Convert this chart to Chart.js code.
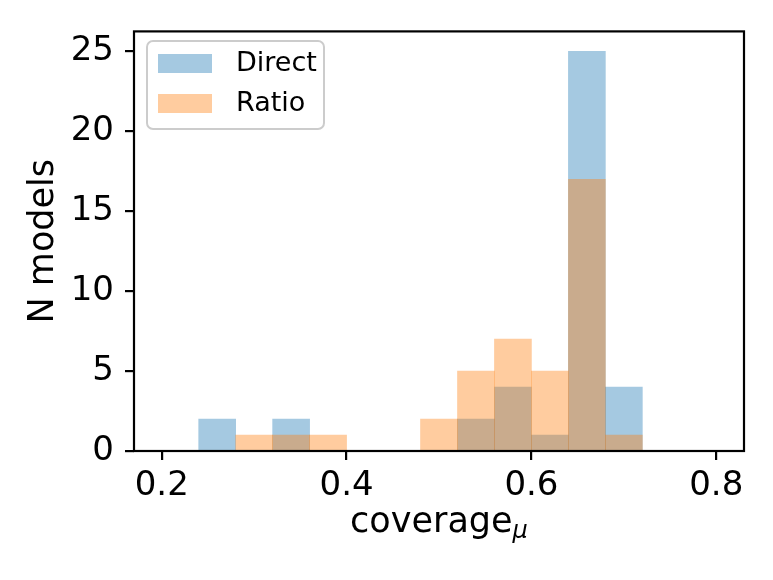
<!DOCTYPE html>
<html>
<head>
<meta charset="utf-8">
<script src="https://cdn.jsdelivr.net/npm/chart.js@4.4.1/dist/chart.umd.min.js"></script>
<style>
html, body { margin: 0; padding: 0; background: #fff; }
#wrap { width: 773px; height: 580px; }
</style>
</head>
<body>
<div id="wrap"><canvas id="histChart"></canvas></div>
<script>
// bins are 0.04 wide, from 0.20 to 0.80
const binCenters = [0.22, 0.26, 0.30, 0.34, 0.38, 0.42, 0.46, 0.50, 0.54, 0.58, 0.62, 0.66, 0.70, 0.74, 0.78];
const directCounts = [0, 2, 0, 2, 0, 0, 0, 0, 2, 4, 1, 25, 4, 0, 0];
const ratioCounts = [0, 0, 1, 1, 1, 0, 0, 2, 5, 7, 5, 17, 1, 0, 0];
const xTicks = [0.2, 0.4, 0.6, 0.8];
const yTicks = [0, 5, 10, 15, 20, 25];
const seriesNames = ['Direct', 'Ratio'];

const FONT = "'DejaVu Sans', sans-serif";
const blue = 'rgba(31, 119, 180, 0.4)';
const orange = 'rgba(255, 127, 14, 0.4)';

function toPoints(counts) {
    return binCenters.map((c, i) => ({ x: c, y: counts[i] }));
}

// frame, axis titles and the legend box, drawn like matplotlib does
const mplDecor = {
    id: 'mplDecor',
    afterDatasetsDraw(chart) {
        const { ctx, chartArea: a } = chart;
        ctx.save();
        ctx.strokeStyle = '#000';
        ctx.lineWidth = 2.2;
        ctx.strokeRect(a.left, a.top, a.right - a.left, a.bottom - a.top);
        ctx.restore();
    },
    afterDraw(chart) {
        const { ctx, chartArea: a } = chart;
        ctx.save();
        ctx.fillStyle = '#000';

        // x title with subscript mu
        ctx.font = '35px ' + FONT;
        const main = 'coverage';
        const wMain = ctx.measureText(main).width;
        ctx.font = 'italic 24px ' + FONT;
        const wSub = ctx.measureText('μ').width;
        const cx = (a.left + a.right) / 2;
        const x0 = cx - (wMain + wSub) / 2;
        ctx.textBaseline = 'alphabetic';
        ctx.textAlign = 'left';
        ctx.font = '35px ' + FONT;
        ctx.fillText(main, x0, 532);
        ctx.font = 'italic 24px ' + FONT;
        ctx.fillText('μ', x0 + wMain, 538);

        // y title
        ctx.save();
        ctx.translate(44, (a.top + a.bottom) / 2);
        ctx.rotate(-Math.PI / 2);
        ctx.font = '35px ' + FONT;
        ctx.textAlign = 'center';
        ctx.textBaseline = 'middle';
        ctx.fillText('N models', 0, 0);
        ctx.restore();

        // legend
        const bx = 147, by = 41, bw = 177, bh = 88;
        ctx.beginPath();
        ctx.roundRect(bx, by, bw, bh, 6);
        ctx.fillStyle = 'rgba(255,255,255,0.8)';
        ctx.fill();
        ctx.strokeStyle = '#cccccc';
        ctx.lineWidth = 2;
        ctx.stroke();

        ctx.font = '27px ' + FONT;
        ctx.textAlign = 'left';
        ctx.textBaseline = 'middle';
        chart.data.datasets.forEach((ds, i) => {
            const py = 54 + i * 40;
            ctx.fillStyle = ds.backgroundColor;
            ctx.fillRect(158, py, 54, 19);
            ctx.fillStyle = '#000';
            ctx.fillText(ds.label, 236, py + 10);
        });
        ctx.restore();
    }
};

const barDefaults = {
    borderWidth: 0,
    barPercentage: 1.0,
    categoryPercentage: 1.0,
    grouped: false
};

new Chart(document.getElementById('histChart'), {
    type: 'bar',
    data: {
        datasets: [
            { ...barDefaults, label: seriesNames[0], data: toPoints(directCounts), backgroundColor: blue, order: 2 },
            { ...barDefaults, label: seriesNames[1], data: toPoints(ratioCounts), backgroundColor: orange, order: 1 }
        ]
    },
    options: {
        responsive: true,
        maintainAspectRatio: false,
        animation: false,
        layout: { padding: { left: 0, right: 29, top: 29, bottom: 0 } },
        scales: {
            x: {
                type: 'linear',
                min: 0.17,
                max: 0.83,
                offset: false,
                afterBuildTicks: (s) => { s.ticks = xTicks.map(v => ({ value: v })); },
                afterFit: (s) => { s.height = 129; },
                ticks: {
                    color: '#000',
                    font: { family: FONT, size: 34 },
                    padding: 6,
                    maxRotation: 0,
                    autoSkip: false,
                    callback: (v) => v.toFixed(1)
                },
                grid: { offset: false, drawOnChartArea: false, drawTicks: true, tickLength: 9, color: '#000', lineWidth: 2.2 },
                border: { display: false }
            },
            y: {
                type: 'linear',
                min: 0,
                max: 26.25,
                afterBuildTicks: (s) => { s.ticks = yTicks.map(v => ({ value: v })); },
                afterFit: (s) => { s.width = 134; },
                ticks: {
                    color: '#000',
                    font: { family: FONT, size: 34 },
                    padding: 11,
                    autoSkip: false
                },
                grid: { offset: false, drawOnChartArea: false, drawTicks: true, tickLength: 9, color: '#000', lineWidth: 2.2 },
                border: { display: false }
            }
        },
        plugins: {
            legend: { display: false },
            tooltip: { enabled: false }
        }
    },
    plugins: [mplDecor]
});
</script>
</body>
</html>
